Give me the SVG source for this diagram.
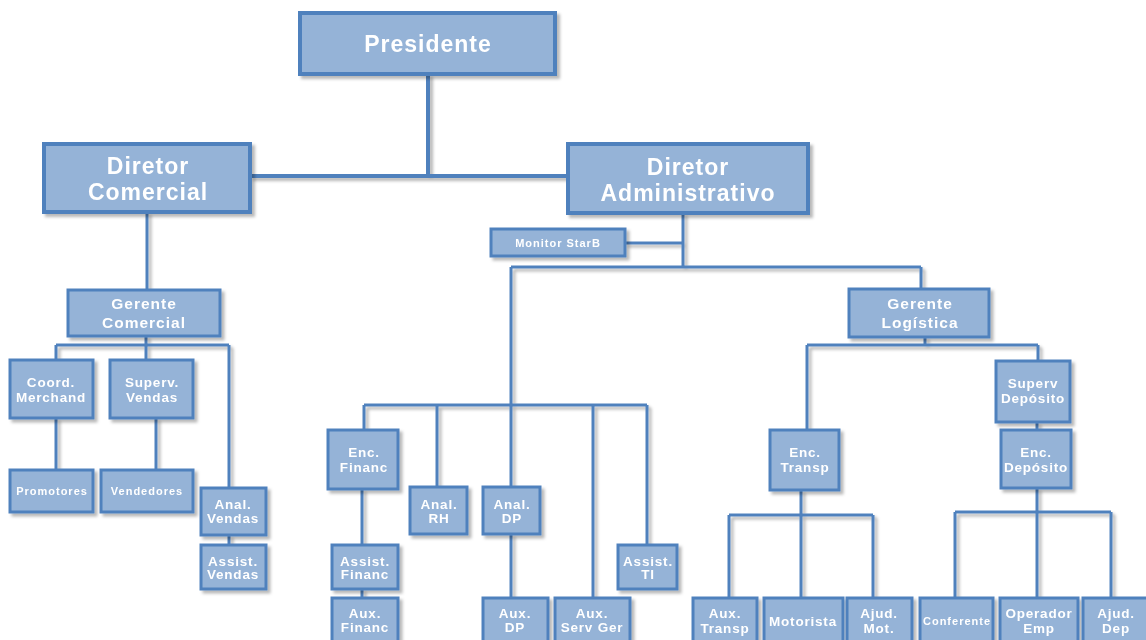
<svg xmlns="http://www.w3.org/2000/svg" width="1146" height="640" viewBox="0 0 1146 640">
<defs>
<filter id="sh" x="-10%" y="-10%" width="130%" height="130%">
<feDropShadow dx="3" dy="3" stdDeviation="1.5" flood-color="#000" flood-opacity="0.28"/>
</filter>
<style>
.b{fill:#95B3D7;stroke:#4F81BD;stroke-width:3}
.bb{fill:#95B3D7;stroke:#4F81BD;stroke-width:4}
.c{fill:none;stroke:#4F81BD;stroke-width:3}
.cb{fill:none;stroke:#4F81BD;stroke-width:4}
text{font-family:"Liberation Sans",Arial,sans-serif;font-weight:bold;fill:#fff;text-anchor:middle}
.t1{font-size:23px;letter-spacing:1px}
.t2{font-size:15.5px;letter-spacing:1px}
.t3{font-size:13.5px;letter-spacing:0.8px}
.t4{font-size:11px;letter-spacing:1px}
</style>
</defs>
<rect width="1146" height="640" fill="#fff"/>
<g id="connectors" filter="url(#sh)">
<path class="cb" d="M428 74V176M250 176H568"/>
<path class="c" d="M147 212V290"/>
<path class="c" d="M146 336V345M56 345H229M56 345V360M146 345V360M229 345V488"/>
<path class="c" d="M56 418V470M156 418V470M229 535V545"/>
<path class="c" d="M683 213V267M625 243H683M511 267H921M921 267V289"/>
<path class="c" d="M511 267V487M364 405H647M364 405V430M437 405V487M593 405V598M647 405V545"/>
<path class="c" d="M362 489V545M362 589V598M511 534V598"/>
<path class="c" d="M925 337V345M807 345H1038M807 345V430M1038 345V361M1037 422V430"/>
<path class="c" d="M801 490V515M729 515H873M729 515V598M801 515V598M873 515V598"/>
<path class="c" d="M1037 488V512M955 512H1111M955 512V598M1037 512V598M1111 512V598"/>
</g>
<g filter="url(#sh)">
<g id="presidente"><rect class="bb" x="300" y="13" width="255" height="61"/><text class="t1" x="428" y="52">Presidente</text></g>
<g id="dir-comercial"><rect class="bb" x="44" y="144" width="206" height="68"/><text class="t1" x="148" y="174">Diretor</text><text class="t1" x="148" y="200">Comercial</text></g>
<g id="dir-admin"><rect class="bb" x="568" y="144" width="240" height="69"/><text class="t1" x="688" y="175">Diretor</text><text class="t1" x="688" y="201">Administrativo</text></g>
<g id="monitor"><rect class="b" x="491" y="229" width="134" height="27"/><text class="t4" x="558" y="247">Monitor StarB</text></g>
<g id="ger-comercial"><rect class="b" x="68" y="290" width="152" height="46"/><text class="t2" x="144" y="308.5">Gerente</text><text class="t2" x="144" y="327.5">Comercial</text></g>
<g id="coord-merchand"><rect class="b" x="10" y="360" width="83" height="58"/><text class="t3" x="51" y="386.5">Coord.</text><text class="t3" x="51" y="401.5">Merchand</text></g>
<g id="superv-vendas"><rect class="b" x="110" y="360" width="83" height="58"/><text class="t3" x="152" y="386.5">Superv.</text><text class="t3" x="152" y="401.5">Vendas</text></g>
<g id="promotores"><rect class="b" x="10" y="470" width="83" height="42"/><text class="t4" x="52" y="495">Promotores</text></g>
<g id="vendedores"><rect class="b" x="101" y="470" width="92" height="42"/><text class="t4" x="147" y="495">Vendedores</text></g>
<g id="anal-vendas"><rect class="b" x="201" y="488" width="65" height="47"/><text class="t3" x="233" y="509">Anal.</text><text class="t3" x="233" y="523">Vendas</text></g>
<g id="assist-vendas"><rect class="b" x="201" y="545" width="65" height="44"/><text class="t3" x="233" y="566">Assist.</text><text class="t3" x="233" y="579">Vendas</text></g>
<g id="enc-financ"><rect class="b" x="328" y="430" width="70" height="59"/><text class="t3" x="364" y="457">Enc.</text><text class="t3" x="364" y="472">Financ</text></g>
<g id="anal-rh"><rect class="b" x="410" y="487" width="57" height="47"/><text class="t3" x="439" y="509">Anal.</text><text class="t3" x="439" y="523">RH</text></g>
<g id="anal-dp"><rect class="b" x="483" y="487" width="57" height="47"/><text class="t3" x="512" y="509">Anal.</text><text class="t3" x="512" y="523">DP</text></g>
<g id="assist-financ"><rect class="b" x="332" y="545" width="66" height="44"/><text class="t3" x="365" y="566">Assist.</text><text class="t3" x="365" y="579">Financ</text></g>
<g id="assist-ti"><rect class="b" x="618" y="545" width="59" height="44"/><text class="t3" x="648" y="566">Assist.</text><text class="t3" x="648" y="579">TI</text></g>
<g id="aux-financ"><rect class="b" x="332" y="598" width="66" height="50"/><text class="t3" x="365" y="618">Aux.</text><text class="t3" x="365" y="632">Financ</text></g>
<g id="aux-dp"><rect class="b" x="483" y="598" width="65" height="50"/><text class="t3" x="515" y="618">Aux.</text><text class="t3" x="515" y="632">DP</text></g>
<g id="aux-servger"><rect class="b" x="555" y="598" width="75" height="50"/><text class="t3" x="592" y="618">Aux.</text><text class="t3" x="592" y="632">Serv Ger</text></g>
<g id="ger-logistica"><rect class="b" x="849" y="289" width="140" height="48"/><text class="t2" x="920" y="308.5">Gerente</text><text class="t2" x="920" y="327.5">Logística</text></g>
<g id="superv-deposito"><rect class="b" x="996" y="361" width="74" height="61"/><text class="t3" x="1033" y="388">Superv</text><text class="t3" x="1033" y="403">Depósito</text></g>
<g id="enc-deposito"><rect class="b" x="1001" y="430" width="70" height="58"/><text class="t3" x="1036" y="457">Enc.</text><text class="t3" x="1036" y="472">Depósito</text></g>
<g id="enc-transp"><rect class="b" x="770" y="430" width="69" height="60"/><text class="t3" x="805" y="457">Enc.</text><text class="t3" x="805" y="472">Transp</text></g>
<g id="aux-transp"><rect class="b" x="693" y="598" width="64" height="50"/><text class="t3" x="725" y="618">Aux.</text><text class="t3" x="725" y="632.5">Transp</text></g>
<g id="motorista"><rect class="b" x="764" y="598" width="79" height="50"/><text class="t3" x="803" y="626">Motorista</text></g>
<g id="ajud-mot"><rect class="b" x="847" y="598" width="65" height="50"/><text class="t3" x="879" y="618">Ajud.</text><text class="t3" x="879" y="632.5">Mot.</text></g>
<g id="conferente"><rect class="b" x="920" y="598" width="73" height="50"/><text class="t4" x="957" y="625">Conferente</text></g>
<g id="operador-emp"><rect class="b" x="1000" y="598" width="78" height="50"/><text class="t3" x="1039" y="618">Operador</text><text class="t3" x="1039" y="632.5">Emp</text></g>
<g id="ajud-dep"><rect class="b" x="1083" y="598" width="66" height="50"/><text class="t3" x="1116" y="618">Ajud.</text><text class="t3" x="1116" y="632.5">Dep</text></g>
</g>
</svg>
